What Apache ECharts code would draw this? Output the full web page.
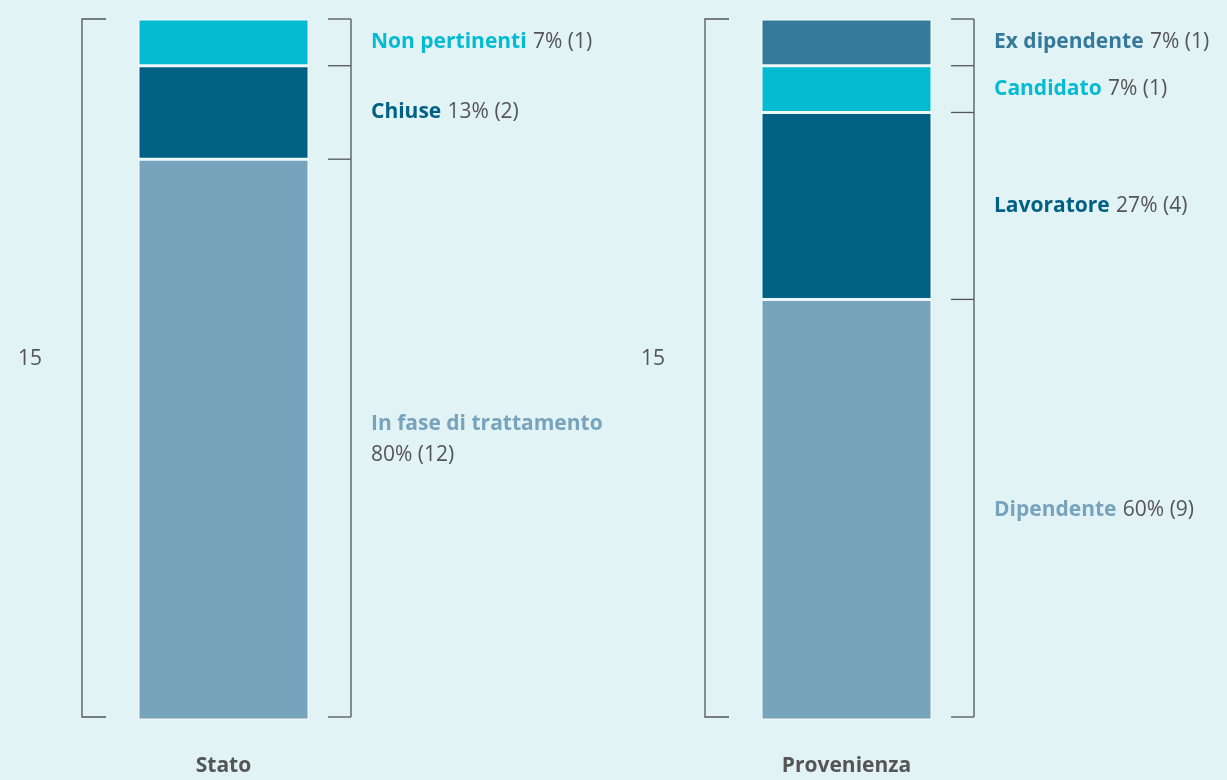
<!DOCTYPE html>
<html>
<head>
<meta charset="utf-8">
<script src="https://cdn.jsdelivr.net/npm/echarts@6/dist/echarts.min.js"></script>
<style>
html,body{margin:0;padding:0;background:#e2f3f6;}
#chart{width:1227px;height:780px;}
</style>
</head>
<body>
<div id="chart"></div>
<script>
// ---- data ----
const panelTitles = ['Stato', 'Provenienza'];
// segments listed bottom -> top
const statoNames = ['In fase di trattamento', 'Chiuse', 'Non pertinenti'];
const statoValues = [12, 2, 1];
const provNames = ['Dipendente', 'Lavoratore', 'Candidato', 'Ex dipendente'];
const provValues = [9, 4, 1, 1];
const statoColors = ['#78a3bc', '#006184', '#05bbd1'];
const provColors = ['#78a3bc', '#006184', '#05bbd1', '#357a9a'];

const FONT = '"Open Sans", Lato, sans-serif';
const GRAY = '#555555';
const BG = '#e2f3f6';

const panels = [
  {title: panelTitles[0], names: statoNames, values: statoValues, colors: statoColors, left: 138},
  {title: panelTitles[1], names: provNames, values: provValues, colors: provColors, left: 761}
];

const grids = [], xAxes = [], yAxes = [], series = [];

panels.forEach((p, pi) => {
  const total = p.values.reduce((a, b) => a + b, 0);
  grids.push({left: p.left, width: 171, top: 19, bottom: 60});
  xAxes.push({
    type: 'category', gridIndex: pi, data: [p.title],
    axisLine: {show: false}, axisTick: {show: false},
    axisLabel: {color: GRAY, fontFamily: FONT, fontWeight: 'bold', fontSize: 21, margin: 36}
  });
  yAxes.push({type: 'value', gridIndex: pi, min: 0, max: total, show: false, splitLine: {show: false}});

  p.names.forEach((name, i) => {
    const v = p.values[i];
    const pct = Math.round(v / total * 100);
    const sep = name.length > 16 ? '\n' : ' ';
    series.push({
      type: 'bar', name: name, stack: 'p' + pi,
      xAxisIndex: pi, yAxisIndex: pi,
      barWidth: '100%',
      data: [v],
      itemStyle: {color: p.colors[i], borderColor: '#eef8fa', borderWidth: 1.5},
      label: {
        show: true, position: 'right', distance: 62,
        formatter: () => '{n|' + name + '}' + sep + '{v|' + pct + '% (' + v + ')}',
        rich: {
          n: {color: p.colors[i], fontFamily: FONT, fontWeight: 'bold', fontSize: 21, lineHeight: 31, padding: [0, 3, 0, 0]},
          v: {color: GRAY, fontFamily: FONT, fontSize: 21, lineHeight: 31}
        }
      },
      emphasis: {disabled: true},
      silent: true
    });
  });

  // brackets + total label
  const cum = [0];
  p.values.forEach(v => cum.push(cum[cum.length - 1] + v));
  series.push({
    type: 'custom', xAxisIndex: pi, yAxisIndex: pi, silent: true, clip: false,
    data: [[0, total]],
    renderItem: function (params, api) {
      const c = api.coord([0, 0]);
      const bw = api.size([1, 0])[0];
      const xl = c[0] - bw / 2, xr = c[0] + bw / 2;
      const yBot = api.coord([0, 0])[1] - 3;
      const yTop = api.coord([0, total])[1];
      const lineStyle = {stroke: '#555', lineWidth: 1.3, fill: null};
      const children = [];
      // left bracket
      const lx = xl - 56;
      children.push({type: 'polyline', shape: {points: [[lx + 24, yTop], [lx, yTop], [lx, yBot], [lx + 24, yBot]]}, style: lineStyle});
      // right bracket
      const rx = xr + 42;
      children.push({type: 'line', shape: {x1: rx, y1: yTop, x2: rx, y2: yBot}, style: lineStyle});
      cum.forEach((cv, k) => {
        const y = k === 0 ? yBot : api.coord([0, cv])[1];
        children.push({type: 'line', shape: {x1: rx - 23, y1: y, x2: rx, y2: y}, style: lineStyle});
      });
      // total label
      const ym = api.coord([0, total / 2])[1] - 10;
      children.push({type: 'text', style: {text: String(total), x: lx - 40, y: ym, align: 'right', verticalAlign: 'middle', fill: GRAY, font: '21px ' + FONT}});
      return {type: 'group', children: children};
    }
  });
});

const chart = echarts.init(document.getElementById('chart'));
chart.setOption({
  backgroundColor: BG,
  animation: false,
  grid: grids, xAxis: xAxes, yAxis: yAxes, series: series
});
</script>
</body>
</html>
